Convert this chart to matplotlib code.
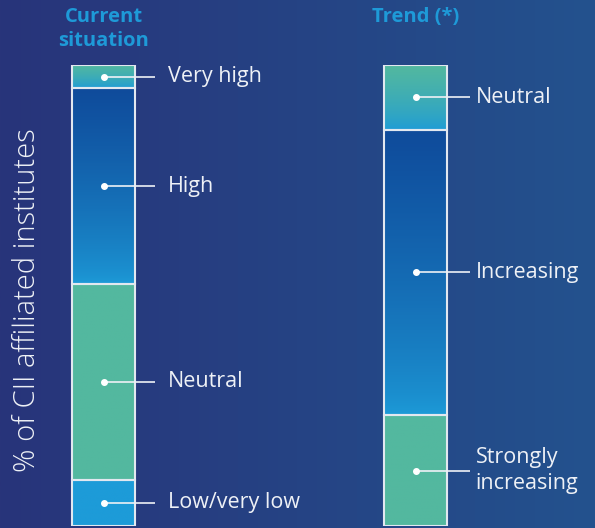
import numpy as np
import matplotlib
matplotlib.use('Agg')
import matplotlib.pyplot as plt
from matplotlib.colors import LinearSegmentedColormap
from matplotlib import transforms

# Data (share of institutes)
groups = ['Current\nsituation', 'Trend (*)']
current_labels = ['Low/very low', 'Neutral', 'High', 'Very high']
current_values = [10, 42.5, 42.5, 5]
trend_labels = ['Strongly\nincreasing', 'Increasing', 'Neutral']
trend_values = [24, 62, 14]

# Colours
BG_LEFT = '#28347a'
BG_RIGHT = '#23528e'
GREEN = '#53b89f'
LIGHT_BLUE = '#1d9bd8'
DARK_BLUE = '#0f4b9b'
EDGE = '#e2e8f0'
TEXT = '#eef1f6'
TITLE = '#1e9ad8'

# fill per segment: (top colour, bottom colour)
current_fills = [(LIGHT_BLUE, LIGHT_BLUE), (GREEN, GREEN),
                 (DARK_BLUE, LIGHT_BLUE), (GREEN, LIGHT_BLUE)]
trend_fills = [(GREEN, GREEN), (DARK_BLUE, LIGHT_BLUE), (GREEN, LIGHT_BLUE)]

plt.rcParams['font.family'] = ['Open Sans', 'DejaVu Sans']

fig = plt.figure(figsize=(5.95, 5.28), dpi=100)

# background gradient
bg = fig.add_axes([0, 0, 1, 1], zorder=0)
bg_cmap = LinearSegmentedColormap.from_list('bg', [BG_LEFT, BG_RIGHT])
bg.imshow(np.linspace(0, 1, 256)[None, :], aspect='auto', cmap=bg_cmap,
          extent=[0, 1, 0, 1])
bg.axis('off')

ax = fig.add_axes([0, 2 / 528, 1, 461 / 528], zorder=1)
ax.patch.set_alpha(0)
ax.set_xlim(-0.332, 1.575)
ax.set_ylim(0, 100)
ax.axis('off')

bar_w = 0.202


def draw_stack(xpos, values, labels, fills, line_end, text_x):
    bottom = 0
    for val, lab, (top_c, bot_c) in zip(values, labels, fills):
        bars = ax.bar(xpos, val, bar_w, bottom=bottom, facecolor='none',
                      edgecolor=EDGE, linewidth=1.5, zorder=3)
        patch = bars[0]
        # gradient kept mostly dark at top, lighter towards bottom
        cmap = LinearSegmentedColormap.from_list('seg', [bot_c, top_c])
        im = ax.imshow(np.linspace(0, 1, 128)[:, None] ** 0.7, aspect='auto',
                       cmap=cmap, origin='lower',
                       extent=[xpos - bar_w / 2, xpos + bar_w / 2,
                               bottom, bottom + val], zorder=2)
        im.set_clip_path(patch)
        yc = bottom + val / 2
        ax.plot([xpos, xpos + line_end], [yc, yc], color=TEXT, lw=1.2,
                zorder=4, solid_capstyle='butt')
        ax.plot(xpos, yc, 'o', color='white', ms=4, zorder=5)
        ax.text(xpos + text_x, yc, lab, color=TEXT, fontsize=15.5,
                va='center', ha='left', linespacing=1.3, zorder=5)
        bottom += val


draw_stack(0, current_values, current_labels, current_fills, 0.165, 0.205)
draw_stack(1, trend_values, trend_labels, trend_fills, 0.175, 0.192)

ax.set_xlim(-0.332, 1.575)
ax.set_ylim(0, 100)

# group titles
trans = transforms.blended_transform_factory(ax.transData, fig.transFigure)
ax.text(0, 1 - 7 / 528, groups[0], transform=trans, ha='center', va='top',
        color=TITLE, fontsize=14.5, fontweight='bold', linespacing=1.3)
ax.text(1, 1 - 7 / 528, groups[1], transform=trans, ha='center', va='top',
        color=TITLE, fontsize=14.5, fontweight='bold')

fig.text(27 / 595, 1 - 300 / 528, '% of CII affiliated institutes',
         rotation=90, ha='center', va='center', color=TEXT, fontsize=21,
         fontweight='light')

fig.savefig('out.png', dpi=100)
